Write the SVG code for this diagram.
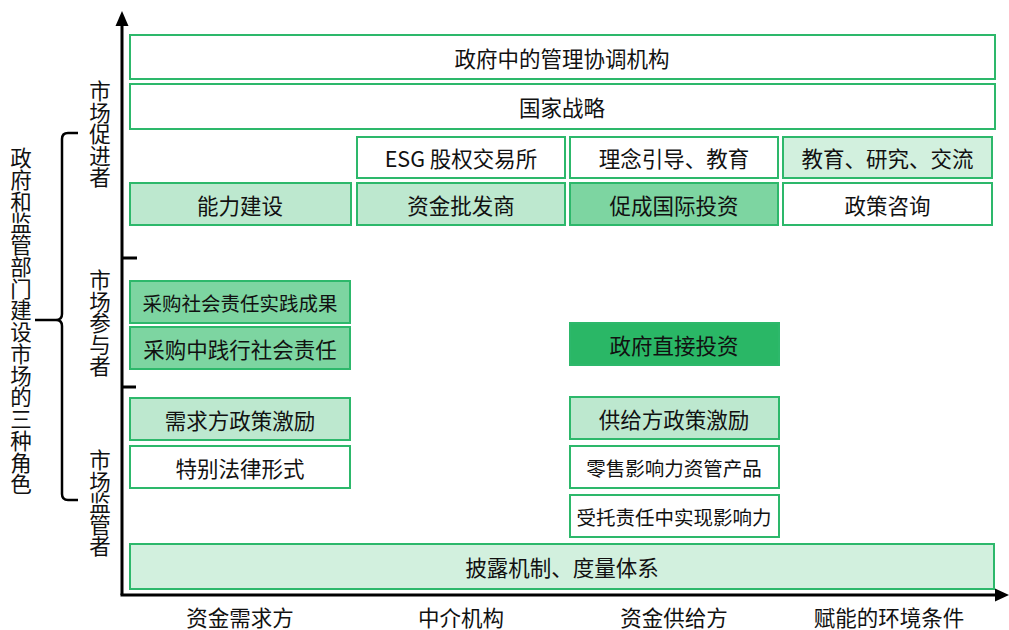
<svg xmlns="http://www.w3.org/2000/svg" width="1009" height="630" viewBox="0 0 1009 630">
<style>
text{font-family:"Noto Sans CJK SC","Noto Sans",sans-serif;fill:#111;dominant-baseline:central;text-anchor:middle}
.b{stroke:#2DB86B;stroke-width:2}
.w{fill:#ffffff}
.l{fill:#BDE8CF}
.ll{fill:#D2F0DE}
.m{fill:#7DD5A1}
.d{fill:#2AB766}
.t{font-size:21.5px}
.s{font-size:19.5px}
.ax{stroke:#000;stroke-width:3;fill:none}
</style>
<rect width="1009" height="630" fill="#ffffff"/>
<g id="connectors">
<path class="ax" d="M122,595 V24"/>
<polygon points="115.5,26 128.5,26 122,11" fill="#000"/>
<path class="ax" d="M120.5,595 H996"/>
<polygon points="995,588.5 995,601.5 1009,595" fill="#000"/>
<path class="ax" d="M122,258 H137 M122,387 H136"/>
<path d="M78,133 H68 Q62,133 62,139 V314 Q62,320 56,320 H35 M56,320 Q62,320 62,326 V494 Q62,500 68,500 H78" stroke="#000" stroke-width="2.5" fill="none"/>
</g>
<g id="labels">
<text class="t"><tspan x="21" y="156">政</tspan><tspan x="21" y="177.75">府</tspan><tspan x="21" y="199.5">和</tspan><tspan x="21" y="221.25">监</tspan><tspan x="21" y="243">管</tspan><tspan x="21" y="264.75">部</tspan><tspan x="21" y="286.5">门</tspan><tspan x="21" y="308.25">建</tspan><tspan x="21" y="330">设</tspan><tspan x="21" y="351.75">市</tspan><tspan x="21" y="373.5">场</tspan><tspan x="21" y="395.25">的</tspan><tspan x="21" y="417">三</tspan><tspan x="21" y="438.75">种</tspan><tspan x="21" y="460.5">角</tspan><tspan x="21" y="482.25">色</tspan></text>
<text class="t"><tspan x="100" y="89">市</tspan><tspan x="100" y="110.5">场</tspan><tspan x="100" y="132">促</tspan><tspan x="100" y="153.5">进</tspan><tspan x="100" y="175">者</tspan></text>
<text class="t"><tspan x="100" y="278">市</tspan><tspan x="100" y="299.5">场</tspan><tspan x="100" y="321">参</tspan><tspan x="100" y="342.5">与</tspan><tspan x="100" y="364">者</tspan></text>
<text class="t"><tspan x="100" y="458">市</tspan><tspan x="100" y="479.5">场</tspan><tspan x="100" y="501">监</tspan><tspan x="100" y="522.5">管</tspan><tspan x="100" y="544">者</tspan></text>
<text class="t" x="240" y="616">资金需求方</text>
<text class="t" x="461" y="616">中介机构</text>
<text class="t" x="674" y="616">资金供给方</text>
<text class="t" x="889" y="616">赋能的环境条件</text>
</g>
<g id="n1"><rect class="b w" x="130" y="35" width="865" height="44"/><text class="t" x="562" y="57">政府中的管理协调机构</text></g>
<g id="n2"><rect class="b w" x="130" y="84" width="865" height="45"/><text class="t" x="562" y="106.5">国家战略</text></g>
<g id="n3"><rect class="b w" x="357" y="137" width="208" height="41"/><text class="t" x="461" y="157.5">ESG 股权交易所</text></g>
<g id="n4"><rect class="b w" x="570" y="137" width="208" height="41"/><text class="t" x="674" y="157.5">理念引导、教育</text></g>
<g id="n5"><rect class="b ll" x="783" y="137" width="209" height="41"/><text class="t" x="887.5" y="157.5">教育、研究、交流</text></g>
<g id="n6"><rect class="b l" x="130" y="183" width="221" height="42"/><text class="t" x="240" y="204">能力建设</text></g>
<g id="n7"><rect class="b l" x="357" y="183" width="208" height="42"/><text class="t" x="461" y="204">资金批发商</text></g>
<g id="n8"><rect class="b m" x="570" y="183" width="208" height="42"/><text class="t" x="674" y="204">促成国际投资</text></g>
<g id="n9"><rect class="b w" x="783" y="183" width="209" height="42"/><text class="t" x="887.5" y="204">政策咨询</text></g>
<g id="n10"><rect class="b m" x="130" y="281" width="220" height="42"/><text class="s" x="240" y="302">采购社会责任实践成果</text></g>
<g id="n11"><rect class="b m" x="130" y="327" width="220" height="42"/><text class="t" x="240" y="348">采购中践行社会责任</text></g>
<g id="n12"><rect class="b d" x="570" y="323" width="209" height="42"/><text class="t" x="674" y="344">政府直接投资</text></g>
<g id="n13"><rect class="b l" x="130" y="398" width="220" height="42"/><text class="t" x="240" y="419">需求方政策激励</text></g>
<g id="n14"><rect class="b l" x="570" y="397" width="209" height="42"/><text class="t" x="674" y="418">供给方政策激励</text></g>
<g id="n15"><rect class="b w" x="130" y="446" width="220" height="42"/><text class="t" x="240" y="467">特别法律形式</text></g>
<g id="n16"><rect class="b w" x="570" y="446" width="209" height="42"/><text class="s" x="674" y="467">零售影响力资管产品</text></g>
<g id="n17"><rect class="b w" x="570" y="495" width="209" height="42"/><text class="s" x="674" y="516">受托责任中实现影响力</text></g>
<g id="n18"><rect class="b ll" x="130" y="544" width="864" height="45"/><text class="t" x="562" y="566.5">披露机制、度量体系</text></g>
</svg>
